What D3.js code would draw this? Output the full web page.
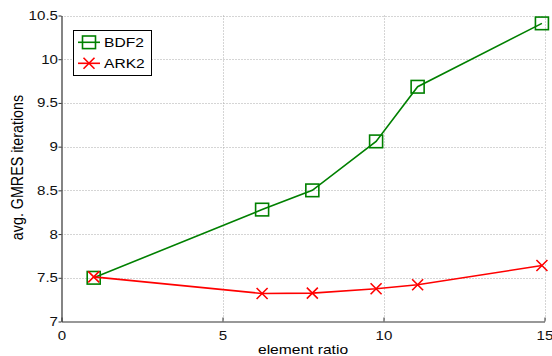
<!DOCTYPE html>
<html>
<head>
<meta charset="utf-8">
<script src="https://cdn.jsdelivr.net/npm/d3@7"></script>
<style>
  body { margin: 0; background: #fff; }
  svg { font-family: "Liberation Sans", Arial, sans-serif; }
</style>
</head>
<body>
<svg id="chart" width="552" height="356"></svg>
<script>
const ratios = [1, 6.23, 7.79, 9.77, 11.06, 14.92];
const bdf2 = [7.5, 8.28, 8.5, 9.06, 9.685, 10.41];
const ark2 = [7.51, 7.32, 7.325, 7.375, 7.42, 7.64];
const xTicks = [0, 5, 10, 15];
const yTicks = [7, 7.5, 8, 8.5, 9, 9.5, 10, 10.5];

const svg = d3.select("#chart");
const plotL = 61.5, plotR = 544.5, plotT = 15.5, plotB = 321.5;
const SX = 1.2; // the picture is a bit wider than tall, text looks stretched

const x = d3.scaleLinear().domain([0, 15]).range([plotL, plotR]);
const y = d3.scaleLinear().domain([7, 10.5]).range([plotB, plotT]);

// grid
svg.append("g").selectAll("line")
  .data(xTicks.slice(1))
  .enter().append("line")
  .attr("x1", d => Math.round(x(d)) + 0.5).attr("x2", d => Math.round(x(d)) + 0.5)
  .attr("y1", plotT).attr("y2", plotB)
  .attr("stroke", "#aaa").attr("stroke-dasharray", "1,2");
svg.append("g").selectAll("line")
  .data(yTicks.slice(1))
  .enter().append("line")
  .attr("y1", d => Math.round(y(d)) + 0.5).attr("y2", d => Math.round(y(d)) + 0.5)
  .attr("x1", plotL).attr("x2", plotR)
  .attr("stroke", "#aaa").attr("stroke-dasharray", "1,2");

// axes
const xAxis = svg.append("g")
  .attr("transform", `translate(0,${plotB})`)
  .call(d3.axisBottom(x).tickValues(xTicks).tickSizeInner(-4).tickSizeOuter(0));
const yAxis = svg.append("g")
  .attr("transform", `translate(${plotL},0)`)
  .call(d3.axisLeft(y).tickValues(yTicks).tickSizeInner(3).tickSizeOuter(0)
    .tickFormat(d => d3.format("")(d)));
[xAxis, yAxis].forEach(a => {
  a.select(".domain").attr("stroke", "#333").attr("stroke-width", 1.2);
  a.selectAll(".tick line").attr("stroke", "#333");
  a.selectAll("text").attr("font-size", 12.6).attr("fill", "#111")
    .attr("font-family", "Liberation Sans, Arial, sans-serif");
});
xAxis.selectAll(".tick text").attr("y", 0).attr("dy", 0)
  .attr("transform", `translate(0,18.5) scale(${SX},1)`);
yAxis.selectAll(".tick text").attr("x", 0)
  .attr("transform", `translate(-3.5,0) scale(${SX},1)`);

svg.append("text")
  .attr("transform", `translate(${(plotL + plotR) / 2},354) scale(${SX},1)`)
  .attr("text-anchor", "middle").attr("font-size", 13)
  .text("element ratio");
svg.append("text")
  .attr("transform", `translate(22.5,167.5) scale(${SX},1) rotate(-90)`)
  .attr("text-anchor", "middle").attr("font-size", 14.3)
  .text("avg. GMRES iterations");

// series
const series = [
  { name: "BDF2", values: bdf2, color: "#008000", marker: "square" },
  { name: "ARK2", values: ark2, color: "#ff0000", marker: "cross" }
];
const line = d3.line().x((d, i) => x(ratios[i])).y(d => y(d));

const drawMarker = (g, type, color, cx, cy) => {
  if (type === "square") {
    g.append("rect")
      .attr("x", cx - 6.5).attr("y", cy - 6.3)
      .attr("width", 13).attr("height", 12.6)
      .attr("fill", "none").attr("stroke", color).attr("stroke-width", 1.6);
  } else {
    const s = 5.5;
    g.append("path")
      .attr("d", `M${cx - s},${cy - s}L${cx + s},${cy + s}M${cx - s},${cy + s}L${cx + s},${cy - s}`)
      .attr("stroke", color).attr("stroke-width", 1.6).attr("fill", "none");
  }
};

series.forEach(s => {
  svg.append("path")
    .datum(s.values)
    .attr("d", line)
    .attr("fill", "none").attr("stroke", s.color).attr("stroke-width", 1.6);
  const g = svg.append("g");
  s.values.forEach((v, i) => drawMarker(g, s.marker, s.color, x(ratios[i]), y(v)));
});

// legend
const lg = svg.append("g");
lg.append("rect")
  .attr("x", 73.5).attr("y", 30.5).attr("width", 78).attr("height", 45)
  .attr("fill", "#fff").attr("stroke", "#000").attr("stroke-width", 1);
series.forEach((s, i) => {
  const cy = 42.3 + i * 21;
  lg.append("line")
    .attr("x1", 78).attr("x2", 100).attr("y1", cy).attr("y2", cy)
    .attr("stroke", s.color).attr("stroke-width", 1.6);
  drawMarker(lg, s.marker, s.color, 89, cy);
  lg.append("text")
    .attr("transform", `translate(104,${cy + 4.5}) scale(${SX},1)`)
    .attr("font-size", 13).text(s.name);
});
</script>
</body>
</html>
